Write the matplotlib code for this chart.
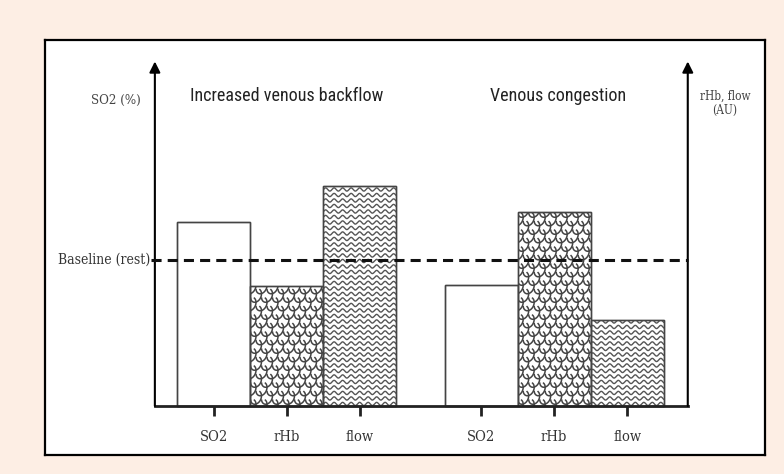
import numpy as np
import matplotlib.pyplot as plt
from matplotlib.patches import Rectangle

# values relative to baseline (rest) = 1
group_titles = ["Increased venous backflow", "Venous congestion"]
bar_labels = ["SO2", "rHb", "flow"]
backflow_vals = [1.26, 0.82, 1.51]
congestion_vals = [0.83, 1.33, 0.59]
baseline = 1.0

pos1 = np.array([0.0, 1.0, 2.0])
pos2 = pos1 + 3.66
axis_left, axis_right, axis_top = -0.81, 6.49, 2.36

# pixels per data unit (for pattern drawing)
PX_X, PX_Y = 73.0, 146.0

fig = plt.figure(figsize=(7.84, 4.74), dpi=100, facecolor='#fdeee4')
ax = fig.add_axes([45/784, 19/474, 720/784, 415/474])
ax.set_facecolor('white')
ax.set_xlim(-2.315, 7.548)
ax.set_ylim(-0.336, 2.507)
ax.set_xticks([])
ax.set_yticks([])
for s in ax.spines.values():
    s.set_linewidth(1.6)
    s.set_color('black')


def zigzag(ax, patch):
    x0, y0 = patch.get_x(), patch.get_y()
    w, h = patch.get_width(), patch.get_height()
    t = np.linspace(0, w * PX_X, 400)
    for yl in np.arange(2, h * PX_Y + 6, 5.5):
        yy = yl + 1.6 * np.sin(2 * np.pi * t / 8.5)
        ln, = ax.plot(x0 + t / PX_X, y0 + yy / PX_Y, color='#555', lw=1.0)
        ln.set_clip_path(patch)


def scales(ax, patch):
    x0, y0 = patch.get_x(), patch.get_y()
    w, h = patch.get_width(), patch.get_height()
    a = np.linspace(np.pi * 1.05, np.pi * 2.25, 30)
    r = 5.5
    for k, yc in enumerate(np.arange(0, h * PX_Y + 10, 8.5)):
        off = 5.5 if k % 2 else 0
        for xc in np.arange(-11 + off, w * PX_X + 11, 11):
            xx = xc + r * np.cos(a)
            yy = yc + 1.2 * r * np.sin(a) + 0.3 * (xx - xc)
            ln, = ax.plot(x0 + xx / PX_X, y0 + yy / PX_Y, color='#444', lw=1.1)
            ln.set_clip_path(patch)


for pos, vals in [(pos1, backflow_vals), (pos2, congestion_vals)]:
    bars = ax.bar(pos, vals, width=1.0, color='white', edgecolor='#444', lw=1.0, zorder=2)
    scales(ax, bars[1])
    zigzag(ax, bars[2])
    for b in bars:
        ax.add_patch(Rectangle((b.get_x(), 0), b.get_width(), b.get_height(),
                               fill=False, edgecolor='#444', lw=1.0, zorder=4))

# axes with arrows
ax.plot([axis_left, axis_right], [0, 0], color='#222', lw=2, zorder=5)
for xa in (axis_left, axis_right):
    ax.annotate('', xy=(xa, axis_top), xytext=(xa, 0),
                arrowprops=dict(arrowstyle='-|>', lw=1.5, color='black',
                                mutation_scale=16, shrinkA=0, shrinkB=0), zorder=5)
ax.vlines(np.concatenate([pos1, pos2]), -0.068, 0, color='#222', lw=2, zorder=5)

# baseline
ax.plot([-0.86, axis_right], [baseline, baseline], color='#111', lw=2.2,
        ls=(0, (3.3, 2.0)), zorder=6)

serif = dict(family=['DejaVu Serif'], stretch='condensed')
narrow = ['Roboto Condensed', 'Archivo Narrow', 'DejaVu Sans']

for pos in (pos1, pos2):
    for p, lab in zip(pos, bar_labels):
        ax.text(p, -0.212, lab, ha='center', va='center', fontsize=10.5,
                color='#333', **serif)

ax.text(1.0, 2.123, group_titles[0], ha='center', va='center', fontsize=13,
        family=narrow, color='#222')
ax.text(4.71, 2.123, group_titles[1], ha='center', va='center', fontsize=13,
        family=narrow, color='#222')
ax.text(-1.342, 2.096, "SO2 (%)", ha='center', va='center', fontsize=9.5,
        color='#444', **serif)
ax.text(-0.875, baseline, "Baseline (rest)", ha='right', va='center', fontsize=10,
        color='#333', **serif)
ax.text(7.0, 2.075, "rHb, flow\n(AU)", ha='center', va='center', fontsize=8.5,
        color='#444', linespacing=1.1, **serif)

fig.savefig('out.png', dpi=100, facecolor=fig.get_facecolor())
